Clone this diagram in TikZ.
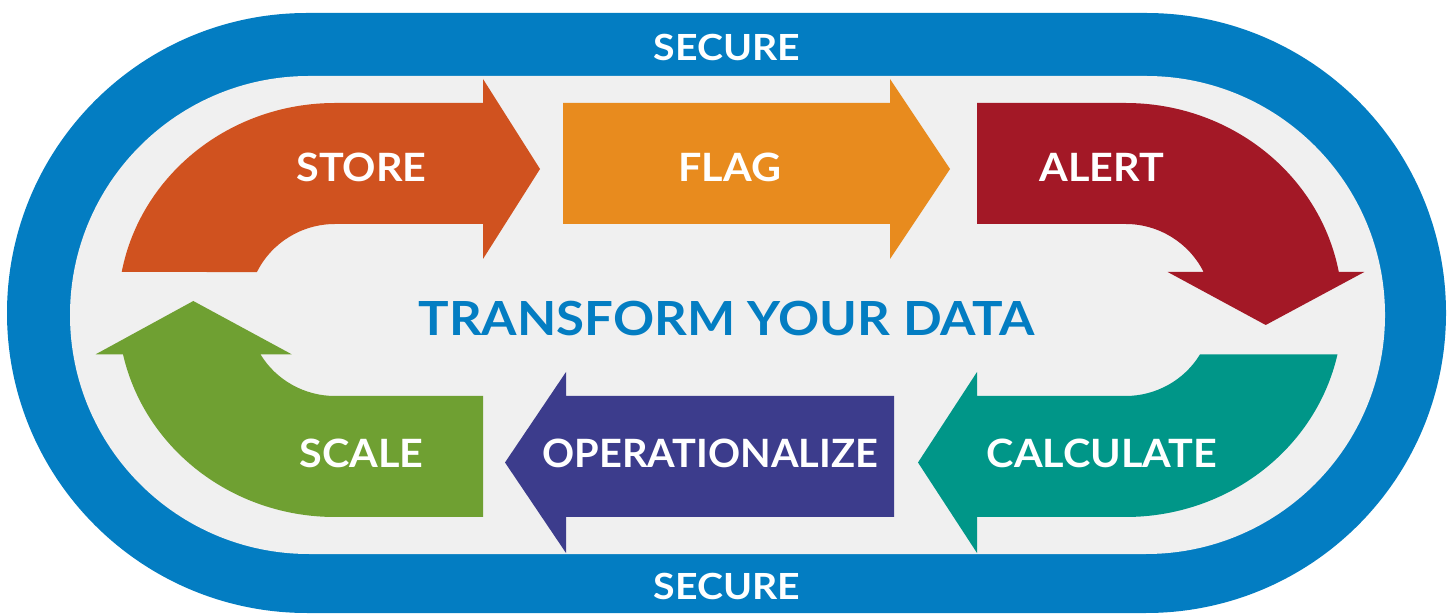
\documentclass[tikz,border=0pt]{standalone}
\usepackage{fontspec}
\setmainfont{Lato}
\newfontfamily\lblfont{Lato}[FakeStretch=1.06]
\newfontfamily\operfont{Lato}[FakeStretch=1.02]
\newfontfamily\titlefont{Lato}[FakeStretch=1.085]
\newfontfamily\secfont{Lato}[FakeStretch=1.09]
\definecolor{secblue}{HTML}{037DC2}
\definecolor{trackgray}{HTML}{F0F0F0}
\definecolor{storeor}{HTML}{D0521F}
\definecolor{flagor}{HTML}{E88B1E}
\definecolor{alertred}{HTML}{A31826}
\definecolor{calcteal}{HTML}{009688}
\definecolor{operpurple}{HTML}{3C3C8C}
\definecolor{scalegreen}{HTML}{6FA032}
% straight arrows: colour, body start, head back, tip
\newcommand{\arrowR}[4]{\fill[#1] (#2,389) -- (#3,389) -- (#3,354) -- (#4,444) -- (#3,534) -- (#3,510) -- (#2,510) -- cycle;}
\newcommand{\arrowL}[4]{\fill[#1] (#2,217) -- (#3,217) -- (#3,241) -- (#4,150.5) -- (#3,60) -- (#3,96) -- (#2,96) -- cycle;}

\begin{document}
\begin{tikzpicture}[x=1pt, y=1pt,
    lbl/.style={text=white, inner sep=0pt, font=\lblfont\bfseries\fontsize{39}{40}\selectfont},
    seclbl/.style={text=white, inner sep=0pt, font=\secfont\bfseries\fontsize{36}{38}\selectfont}]
    \useasboundingbox (0,0) rectangle (1453,613);
    % ring
    \fill[secblue] (307,0) -- (1146,0) arc[start angle=-90, end angle=90, radius=300]
        -- (307,600) arc[start angle=90, end angle=270, radius=300] -- cycle;
    \fill[trackgray] (309,59) -- (1146,59) arc[start angle=-90, end angle=90, radius=239]
        -- (309,537) arc[start angle=90, end angle=270, radius=239] -- cycle;
    % top row
    \fill[storeor] (121.7,341) arc[start angle=169.42, end angle=90, x radius=217, y radius=207]
        -- (483,510) -- (483,534) -- (540,444) -- (483,354) -- (483,389) -- (335,389)
        arc[start angle=90, end angle=153.78, x radius=87, y radius=86] -- cycle;
    \arrowR{flagor}{563}{890}{950}
    \fill[alertred] (977,510) -- (1125.5,510) arc[start angle=90, end angle=10.58, x radius=217, y radius=207]
        -- (1364.3,341) -- (1265.7,288) -- (1167.7,341) -- (1203.6,341)
        arc[start angle=26.22, end angle=90, x radius=87, y radius=86] -- (977,389) -- cycle;
    % bottom row
    \fill[calcteal] (1200.1,258.7) -- (1337.5,258.7) arc[start angle=-12.36, end angle=-90, x radius=217, y radius=207]
        -- (977,96) -- (977,60) -- (918,150.5) -- (977,241) -- (977,217) -- (1125.5,217)
        arc[start angle=-90, end angle=-31.01, x radius=87, y radius=86] -- cycle;
    \arrowL{operpurple}{894}{566}{505}
    \fill[scalegreen] (483,217) -- (335,217) arc[start angle=270, end angle=211.01, x radius=87, y radius=86]
        -- (291.7,258.7) -- (193.3,312) -- (95.7,258.7) -- (123,258.7)
        arc[start angle=192.36, end angle=270, x radius=217, y radius=207] -- (483,96) -- cycle;
    % texts
    \node[seclbl] (securetop) at (727,565.5) {SECURE};
    \node[seclbl] (securebot) at (727,26.7) {SECURE};
    \node[text=secblue, inner sep=0pt, font=\titlefont\bfseries\fontsize{47}{48}\selectfont] (title) at (726.7,294.3) {TRANSFORM YOUR DATA};
    \node[lbl] (store) at (361.5,445.5) {STORE};
    \node[lbl] (flag) at (729.7,445.5) {FLAG};
    \node[lbl] (alert) at (1102,445.5) {ALERT};
    \node[lbl] (scale) at (361.5,159.2) {SCALE};
    \node[lbl, font=\operfont\bfseries\fontsize{39}{40}\selectfont] (oper) at (710.5,159.2) {OPERATIONALIZE};
    \node[lbl] (calc) at (1102,159.2) {CALCULATE};
\end{tikzpicture}
\end{document}
